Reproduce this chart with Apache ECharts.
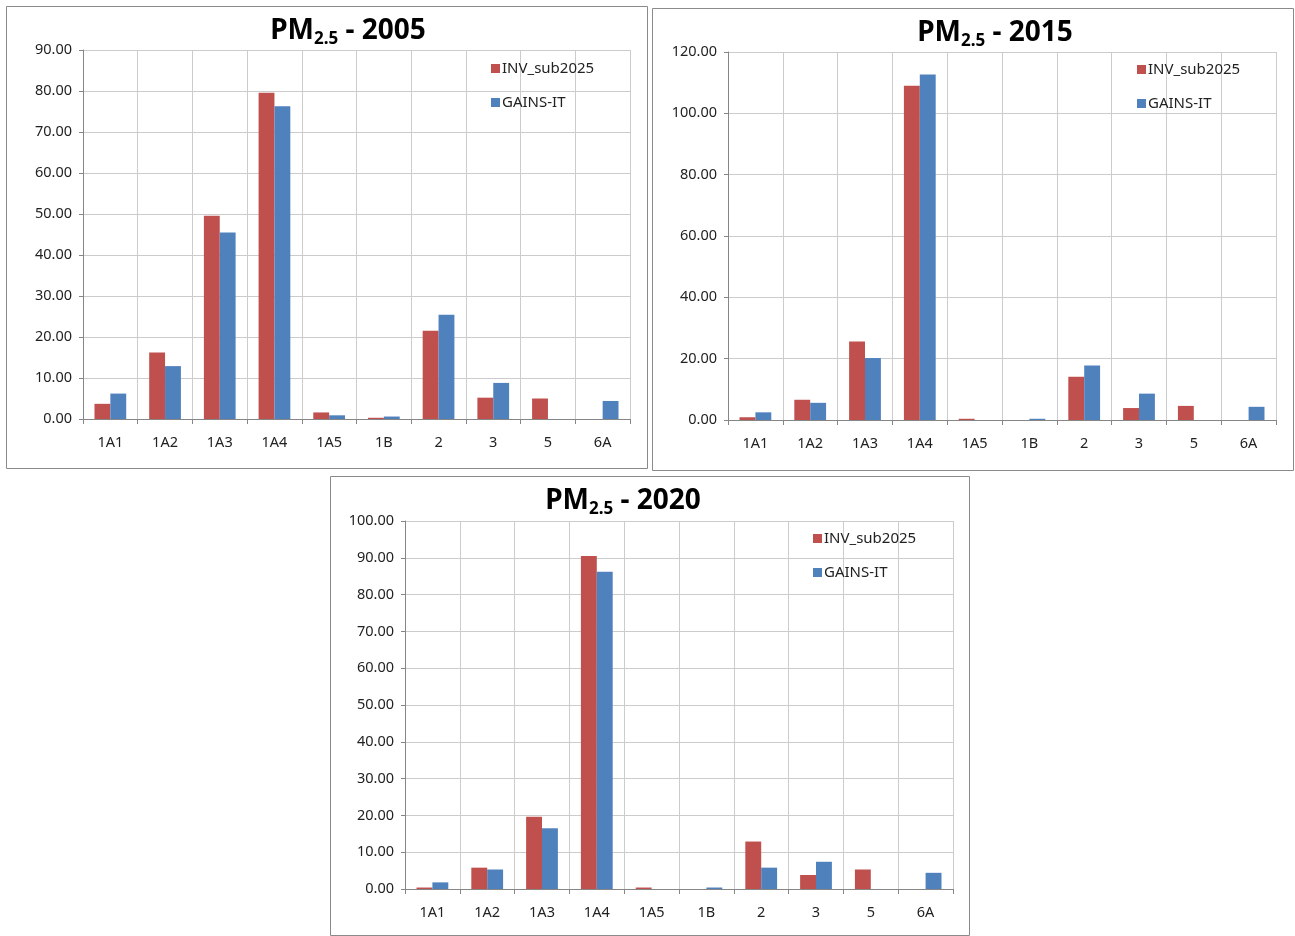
<!DOCTYPE html>
<html>
<head>
<meta charset="utf-8">
<script src="https://cdn.jsdelivr.net/npm/echarts@6/dist/echarts.min.js"></script>
<style>
  html, body { margin: 0; padding: 0; background: #fff; }
  #chart { width: 1295px; height: 936px; }
</style>
</head>
<body>
<div id="chart"></div>
<script>
// Source sectors (NFR codes)
const categories = ['1A1', '1A2', '1A3', '1A4', '1A5', '1B', '2', '3', '5', '6A'];
const seriesNames = ['INV_sub2025', 'GAINS-IT'];

// PM2.5 emissions by sector, kt
const inv2005   = [3.7, 16.2, 49.6, 79.6, 1.6, 0.3, 21.5, 5.2, 5.0, 0];
const gains2005 = [6.2, 12.9, 45.5, 76.3, 0.9, 0.6, 25.4, 8.8, 0, 4.4];
const inv2015   = [0.9, 6.6, 25.6, 109.0, 0.4, 0, 14.1, 3.9, 4.6, 0];
const gains2015 = [2.5, 5.6, 20.2, 112.7, 0, 0.4, 17.8, 8.6, 0, 4.3];
const inv2020   = [0.4, 5.8, 19.6, 90.5, 0.4, 0, 12.9, 3.8, 5.3, 0];
const gains2020 = [1.8, 5.3, 16.5, 86.2, 0, 0.4, 5.8, 7.4, 0, 4.4];

const years = ['2005', '2015', '2020'];
const yMax = [90, 120, 100];
const yStep = [10, 20, 10];

const RED = '#C0504D';
const BLUE = '#4F81BD';
const FONT = 'Noto Sans';

// panel frames and plot rectangles
const panels = [
  { box: [6, 6, 641, 462], grid: { left: 83, top: 50, width: 547, height: 369 }, title: [343, 9], legend: [486, 56] },
  { box: [652, 8, 641, 462], grid: { left: 728, top: 52, width: 548, height: 368 }, title: [990, 11], legend: [1132, 57] },
  { box: [330, 476, 639, 459], grid: { left: 405, top: 521, width: 548, height: 368 }, title: [618, 479], legend: [808, 526] }
];
const data = [[inv2005, gains2005], [inv2015, gains2015], [inv2020, gains2020]];

const chart = echarts.init(document.getElementById('chart'), null, { renderer: 'canvas' });

const option = {
  backgroundColor: '#fff',
  animation: false,
  color: [RED, BLUE],
  textStyle: { fontFamily: FONT },
  title: panels.map((p, i) => ({
    text: '{m|PM}{s|2.5}{m| - ' + years[i] + '}',
    left: p.title[0],
    top: p.title[1],
    textAlign: 'center',
    textStyle: {
      rich: {
        m: { fontFamily: FONT, fontSize: 28, fontWeight: 'bold', color: '#000', lineHeight: 34 },
        s: { fontFamily: FONT, fontSize: 17, fontWeight: 'bold', color: '#000', lineHeight: 10, verticalAlign: 'bottom' }
      }
    }
  })),
  legend: panels.map((p) => ({
    data: seriesNames,
    orient: 'vertical',
    left: p.legend[0],
    top: p.legend[1],
    itemWidth: 9,
    itemHeight: 9,
    itemGap: 19,
    icon: 'rect',
    textStyle: { fontFamily: FONT, fontSize: 15, color: '#222', padding: [0, 0, 0, -3] }
  })),
  grid: panels.map((p) => Object.assign({ containLabel: false }, p.grid)),
  xAxis: panels.map((p, i) => ({
    type: 'category',
    gridIndex: i,
    data: categories,
    boundaryGap: true,
    axisLine: { lineStyle: { color: '#868686', width: 1 } },
    axisTick: { show: true, length: 5, lineStyle: { color: '#868686' } },
    axisLabel: { fontFamily: FONT, fontSize: 14.5, color: '#222', margin: 16 },
    splitLine: { show: true, lineStyle: { color: '#cccccc', width: 1 } }
  })),
  yAxis: panels.map((p, i) => ({
    type: 'value',
    gridIndex: i,
    min: 0,
    max: yMax[i],
    interval: yStep[i],
    axisLine: { show: true, lineStyle: { color: '#868686', width: 1 } },
    axisTick: { show: true, length: 4, lineStyle: { color: '#868686' } },
    axisLabel: { fontFamily: FONT, fontSize: 14.5, color: '#222', margin: 11, formatter: (v) => v.toFixed(2) },
    splitLine: { show: true, lineStyle: { color: '#cccccc', width: 1 } }
  })),
  series: [],
  graphic: panels.map((p) => ({
    type: 'rect',
    silent: true,
    z: -1,
    shape: { x: p.box[0] + 0.5, y: p.box[1] + 0.5, width: p.box[2], height: p.box[3] },
    style: { fill: 'none', stroke: '#8a8a8a', lineWidth: 1 }
  }))
};

data.forEach((pair, i) => {
  pair.forEach((vals, k) => {
    option.series.push({
      type: 'bar',
      name: seriesNames[k],
      xAxisIndex: i,
      yAxisIndex: i,
      data: vals,
      barGap: '0%',
      barCategoryGap: '42%',
      itemStyle: { color: k === 0 ? RED : BLUE }
    });
  });
});

chart.setOption(option);
</script>
</body>
</html>
